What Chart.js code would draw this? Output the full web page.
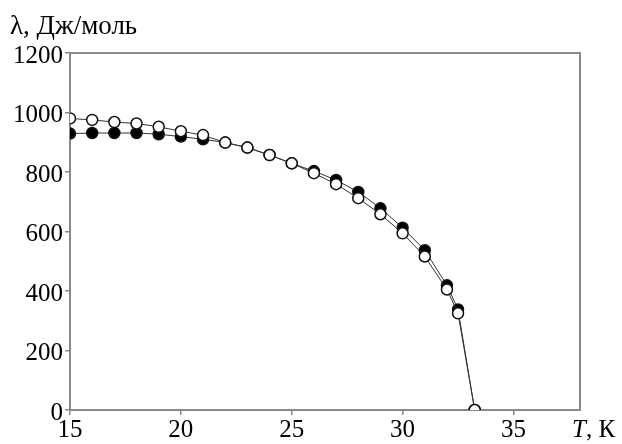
<!DOCTYPE html>
<html>
<head>
<meta charset="utf-8">
<script src="https://cdn.jsdelivr.net/npm/chart.js@4"></script>
<style>
  html, body { margin: 0; padding: 0; background: #fff; }
  #wrap { width: 622px; height: 444px; position: relative; }
</style>
</head>
<body>
<div id="wrap"><canvas id="chart"></canvas></div>
<script>
// temperatures, K
const temps = [15, 16, 17, 18, 19, 20, 21, 22, 23, 24, 25, 26, 27, 28, 29, 30, 31, 32, 32.5, 33.25]
// lambda, J/mol (filled circles)
const lambdaFilled = [929, 931, 931, 931, 927, 919, 910, 899, 882, 857, 829, 803, 773, 733, 678, 613, 537, 419, 338, 0]
// lambda, J/mol (open circles)
const lambdaOpen = [980, 975, 968, 963, 952, 937, 924, 899, 882, 857, 829, 796, 759, 712, 658, 594, 516, 405, 325, 0]
const xTicks = [15, 20, 25, 30, 35]
const yTicks = [0, 200, 400, 600, 800, 1000, 1200]

const FONT = '"Liberation Serif", "Times New Roman", serif'
const axisColor = '#8a8a8a'

const toPoints = ys => temps.map((t, i) => ({ x: t, y: ys[i] }))

// frame round the plot + the two axis captions
const frame = {
  id: 'frame',
  beforeDatasetsDraw(chart) {
    const { ctx, chartArea: a } = chart
    ctx.save()
    ctx.strokeStyle = axisColor
    ctx.lineWidth = 2
    ctx.strokeRect(a.left, a.top, a.right - a.left, a.bottom - a.top)
    ctx.restore()
  },
  afterDraw(chart) {
    const { ctx } = chart
    ctx.save()
    ctx.fillStyle = '#000'
    ctx.textBaseline = 'alphabetic'
    ctx.textAlign = 'left'
    ctx.font = '27px ' + FONT
    ctx.fillText('λ, Дж/моль', 10, 34)
    // x caption: italic T, then ", К"
    ctx.font = 'italic 25px ' + FONT
    const tw = ctx.measureText('T').width
    ctx.fillText('T', 572, 437)
    ctx.font = '25px ' + FONT
    ctx.fillText(', К', 572 + tw, 437)
    ctx.restore()
  }
}

new Chart(document.getElementById('chart'), {
  type: 'scatter',
  data: {
    datasets: [
      {
        label: 'open',
        data: toPoints(lambdaOpen),
        showLine: true,
        borderColor: '#333',
        borderWidth: 1,
        pointRadius: 5.5,
        pointBorderWidth: 1.5,
        pointBackgroundColor: '#fff',
        pointBorderColor: '#111',
        order: 0
      },
      {
        label: 'filled',
        data: toPoints(lambdaFilled),
        showLine: true,
        borderColor: '#333',
        borderWidth: 1,
        pointRadius: 5.5,
        pointBorderWidth: 1.5,
        pointBackgroundColor: '#000',
        pointBorderColor: '#111',
        order: 1
      }
    ]
  },
  options: {
    responsive: true,
    maintainAspectRatio: false,
    animation: false,
    layout: { padding: { left: 0, right: 42, top: 53, bottom: 0 } },
    plugins: {
      legend: { display: false },
      tooltip: { enabled: false }
    },
    scales: {
      x: {
        type: 'linear',
        min: 15,
        max: 38,
        afterFit: s => { s.height = 34 },
        afterBuildTicks: s => { s.ticks = xTicks.map(v => ({ value: v })) },
        border: { display: true, color: axisColor, width: 2 },
        grid: { display: true, drawOnChartArea: false, drawTicks: true, tickLength: 5, color: axisColor, lineWidth: 1.5 },
        ticks: { color: '#000', font: { family: FONT, size: 25 }, padding: 0, maxRotation: 0, callback: v => String(v) }
      },
      y: {
        min: 0,
        max: 1200,
        afterFit: s => { s.width = 70 },
        afterBuildTicks: s => { s.ticks = yTicks.map(v => ({ value: v })) },
        border: { display: true, color: axisColor, width: 2 },
        grid: { display: true, drawOnChartArea: false, drawTicks: true, tickLength: 5, color: axisColor, lineWidth: 1.5 },
        ticks: { color: '#000', font: { family: FONT, size: 25 }, padding: 2, labelOffset: 3, callback: v => String(v) }
      }
    }
  },
  plugins: [frame]
})
</script>
</body>
</html>
